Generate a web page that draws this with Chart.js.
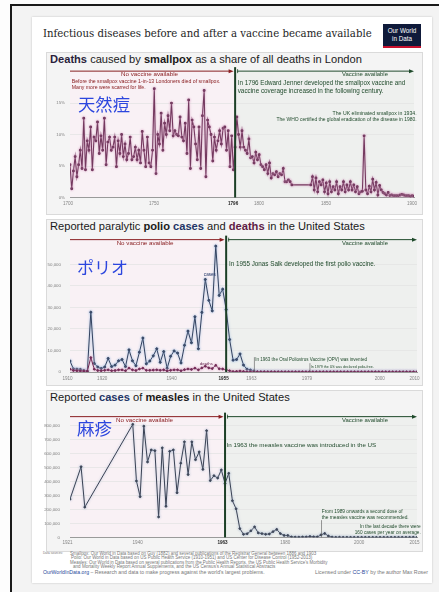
<!DOCTYPE html>
<html><head><meta charset="utf-8">
<script src="https://cdn.jsdelivr.net/npm/chart.js@4.4.1/dist/chart.umd.min.js"></script>
<style>
html,body{margin:0;padding:0}
body{width:439px;height:592px;position:relative;overflow:hidden;background:#fdfdfd;font-family:"Liberation Sans",Arial,sans-serif}
.abs{position:absolute}
#frameTop{left:10px;top:4px;width:429px;height:2px;background:#1a1a1a}
#frameLeft{left:10px;top:4px;width:2px;height:588px;background:#1a1a1a}
#page{left:12px;top:6px;width:427px;height:586px;background:#f3f3f3}
#card{left:32px;top:17px;width:400px;height:566px;background:#fff;box-shadow:0 0 2px rgba(0,0,0,.2)}
.panel{position:absolute;left:46px;width:377px;background:#f4f4f4;border:1px solid #dadada;box-sizing:border-box}
.t{position:absolute;white-space:nowrap;line-height:1}
canvas{position:absolute}
#logo{left:383px;top:24px;width:38px;background:#0f1a3a;border-bottom:2px solid #c8102e;color:#fff;text-align:center;font-size:6.3px;line-height:7.5px;padding-top:3px;box-sizing:content-box;height:19px}
.cjk{font-family:"Noto Sans CJK SC","Noto Sans CJK JP",sans-serif;color:#2c46de;z-index:5}
</style></head><body>
<div id="frameTop" class="abs"></div>
<div id="frameLeft" class="abs"></div>
<div id="page" class="abs"></div>
<div id="card" class="abs"></div>
<div id="logo" class="abs">Our World<br>in Data</div>
<div class="t" data-x="43" data-cy="35" data-w="329" style="font-family:'DejaVu Serif',serif;font-size:13px;color:#1e1e1e">Infectious diseases before and after a vaccine became available</div>

<div class="panel" style="top:52px;height:163px"></div>
<div class="panel" style="top:219px;height:167px"></div>
<div class="panel" style="top:390px;height:162px"></div>

<div class="t" data-x="50" data-cy="60" data-w="312" style="font-size:11px;color:#1a1a1a"><b style="color:#2b1f3c">Deaths</b> caused by <b>smallpox</b> as a share of all deaths in London</div>
<div class="t" data-x="50" data-cy="227" data-w="315" style="font-size:11px;color:#1a1a1a">Reported paralytic <b>polio</b> <b style="color:#1f3466">cases</b> and <b style="color:#5e1c46">deaths</b> in the United States</div>
<div class="t" data-x="50" data-cy="398" data-w="240" style="font-size:11px;color:#1a1a1a">Reported <b style="color:#1f3466">cases</b> of <b>measles</b> in the United States</div>

<canvas id="c1" width="383" height="148" style="left:40px;top:64px"></canvas>
<canvas id="c2" width="383" height="156" style="left:40px;top:228px"></canvas>
<canvas id="c3" width="383" height="146" style="left:40px;top:404px"></canvas>

<div class="t cjk" data-x="78" data-cy="105" data-w="52" style="font-size:17px">天然痘</div>
<div class="t cjk" data-x="77" data-cy="267" data-w="51" style="font-size:17px">ポリオ</div>
<div class="t cjk" data-x="77" data-cy="429" data-w="35" style="font-size:17px">麻疹</div>

<div class="t" data-x="43" data-cy="554" data-w="20" style="font-size:4.5px;color:#777">Data sources:</div>
<div class="t" data-x="70" data-cy="554" data-w="247" style="font-size:4.5px;color:#777">Smallpox: Our World in Data based on Guy (1882) and several publications of the Registrar General between 1886 and 1903</div>
<div class="t" data-x="71" data-cy="558.5" data-w="242" style="font-size:4.5px;color:#777">Polio: Our World in Data based on US Public Health Service (1910-1951) and US Center for Disease Control (1952-2013)</div>
<div class="t" data-x="70" data-cy="563" data-w="258" style="font-size:4.5px;color:#777">Measles: Our World in Data based on several publications from the Public Health Reports, the US Public Health Service's Morbidity</div>
<div class="t" data-x="73" data-cy="567.5" data-w="203" style="font-size:4.5px;color:#777">and Mortality Weekly Report Annual Supplements, and the US Census's Annual Statistical Abstracts</div>
<div class="t" data-x="43" data-cy="573" data-w="222" style="font-size:5px;color:#777"><span style="color:#2a4a9a">OurWorldInData.org</span> – Research and data to make progress against the world's largest problems.</div>
<div class="t" data-r="428" data-cy="573" data-w="113" style="font-size:5px;color:#777">Licensed under <span style="color:#2a4a9a">CC-BY</span> by the author Max Roser</div>

<script>
// ---------------- DATA ----------------
// Smallpox deaths as share of all deaths in London (%)
const smallpoxEarlyStart = 1700; // 1700–1829, yearly
const smallpoxEarly = [
 5.2,1.4,4.2,6.5,3.3,5.2,7.5,4.6,12.6,4.4,
 9.0,7.5,11.2,4.4,9.6,9.0,12.0,7.0,9.8,7.5,
 12.6,5.2,8.8,9.6,7.5,8.0,9.6,4.9,9.0,7.0,
 10.0,6.5,8.5,6.0,7.0,9.6,6.0,6.5,8.0,6.0,
 7.5,5.5,10.5,7.5,4.9,9.6,5.5,4.9,7.5,17.3,
 3.8,10.0,8.5,13.4,7.5,11.8,10.0,13.0,10.6,15.0,
 9.8,10.6,10.0,9.8,12.8,9.6,9.0,11.8,7.0,15.5,
 4.6,12.3,11.2,8.5,6.0,11.2,4.6,13.0,17.0,3.3,
 12.3,11.2,10.0,5.8,9.6,7.5,9.0,10.6,8.5,11.0,
 11.2,7.5,10.6,4.9,9.8,4.4,8.0,12.8,10.0,8.0,
 10.6,8.0,7.5,7.0,9.3,6.3,6.5,5.5,7.2,6.0,
 6.8,5.2,4.9,4.4,5.2,3.8,5.5,3.1,3.8,3.6,
 4.1,3.3,3.8,3.6,4.6,2.5,2.5,2.8,2.5,2.0];
const smallpoxLateStart = 1840; // 1840–1900, yearly
const smallpoxLate = [
 2.0,3.3,1.2,3.1,0.9,2.5,2.0,2.8,0.9,2.3,
 0.6,2.5,0.9,1.7,1.2,2.5,0.6,1.7,1.2,2.5,
 0.9,2.0,1.2,2.5,1.2,2.0,0.9,1.7,0.6,0.9,
 1.0,9.8,1.2,0.6,1.8,0.9,2.9,1.2,2.4,0.4,
 1.9,1.2,0.8,0.6,0.4,0.8,0.3,0.4,0.3,0.3,
 0.3,0.3,0.4,0.5,0.4,0.3,0.3,0.3,0.2,0.3,0.2];
const smallpoxYTicks = [0,5,10,15];
const smallpoxXTicks = [1700,1750,1796,1800,1850,1900];

// Polio, United States, 1910–2010
const polioStart = 1910;
const polioCases = [
 5100,1400,1300,1200,700,400,27800,4000,2300,1600,
 2300,6300,2500,3200,5200,5800,2500,10300,5200,2900,
 9200,15800,3800,5100,7500,10800,4500,9500,1700,7300,
 9800,8800,4200,12400,19000,13600,25700,10800,27700,43000,
 33300,28400,58500,35600,38500,29000,15100,5500,5800,8400,
 3200,1300,900,450,120,70,110,40,55,20,
 30,20,30,8,7,15,12,20,10,30,
 9,10,12,13,9,8,10,10,9,11,
 6,10,6,4,8,7,7,5,2,2,
 0,0,0,0,0,1,0,0,0,1,0];
const polioDeaths = [
 1300,700,600,500,400,400,6700,1300,700,600,
 800,1000,600,700,1000,1000,600,1800,1000,700,
 1400,1800,800,800,900,1000,800,1000,500,800,
 1000,1000,600,1100,1400,1200,1800,1000,1900,2700,
 1900,1600,3100,1500,1400,1000,570,220,260,450,
 230,90,60,40,20,16,9,16,24,13,
 7,18,2,10,3,9,16,16,13,1,
 2,0,1,1,0,2,1,0,1,0,
 0,0,1,0,0,0,0,0,0,0,
 0,0,0,0,0,0,0,0,0,0,0];
const polioYTicks = [0,10000,20000,30000,40000,50000];
const polioXTicks = [1910,1920,1940,1955,1963,1979,2000,2010];

// Measles cases, United States
const measlesYears = [1921,1924,1925,
 1938,1939,1940,1941,1942,1943,1944,1945,1946,1947,1948,1949,
 1950,1951,1952,1953,1954,1955,1956,1957,1958,1959,
 1960,1961,1962,1963,1964,1965,1966,1967,1968,1969,
 1970,1971,1972,1973,1974,1975,1976,1977,1978,1979,
 1980,1981,1982,1983,1984,1985,1986,1987,1988,1989,
 1990,1991,1992,1993,1994,1995,1996,1997,1998,1999,
 2000,2001,2002,2003,2004,2005,2006,2007,2008,2009,
 2010,2011,2012,2013,2014,2015];
const measlesCases = [273000,505000,216000,
 808000,403000,291000,795000,539000,625000,620000,146000,640000,222000,615000,625000,
 319000,530000,683000,449000,683000,555000,611000,486000,763000,406000,
 441000,424000,482000,385000,458000,262000,204000,63000,22000,26000,
 47000,75000,32000,27000,22000,24000,41000,57000,27000,14000,
 13500,3000,1700,1500,2600,2800,6300,3700,3400,18000,
 28000,9600,2200,312,963,309,508,138,100,100,
 86,116,44,56,37,66,55,43,140,71,
 63,220,55,187,667,188];
const measlesYTicks = [0,100000,200000,300000,400000,500000,600000,700000,800000];
const measlesXTicks = [1921,1940,1963,1980,2000,2015];

// ---------------- DRAWING ----------------
const RED = '#8a1f22', GREEN = '#1f4a2b';
const fmtNum = v => v.toLocaleString('en-US');

const glowPlugin = {
  id:'glow',
  beforeDatasetDraw(chart, args){
    const ds = chart.data.datasets[args.index];
    if (ds.glow){ chart.ctx.save(); chart.ctx.shadowColor = ds.glow; chart.ctx.shadowBlur = 2.5; }
  },
  afterDatasetDraw(chart, args){
    const ds = chart.data.datasets[args.index];
    if (ds.glow) chart.ctx.restore();
  }
};

function fitFont(ctx, text, w, weight){
  ctx.font = (weight||'normal') + ' 10px "Liberation Sans", Arial, sans-serif';
  const m = ctx.measureText(text).width;
  const fs = w ? 10 * w / m : 5;
  ctx.font = (weight||'normal') + ' ' + fs.toFixed(2) + 'px "Liberation Sans", Arial, sans-serif';
}

function makeOverlay(cfg){
  return {
    id:'overlay',
    beforeDraw(chart){
      const {ctx, chartArea:a, scales:{x}} = chart;
      const vx = x.getPixelForValue(cfg.vaccineYear);
      ctx.save();
      ctx.fillStyle = '#f9f1f5'; ctx.fillRect(a.left, a.top, vx - a.left, a.bottom - a.top);
      ctx.fillStyle = '#eef0ee'; ctx.fillRect(vx, a.top, a.right - vx, a.bottom - a.top);
      ctx.restore();
    },
    afterDatasetsDraw(chart){
      const {ctx, chartArea:a, scales:{x, y}} = chart;
      const vx = x.getPixelForValue(cfg.vaccineYear);
      const ay = a.top + cfg.arrowDy;
      ctx.save();
      (cfg.markers||[]).forEach(m => {
        ctx.strokeStyle = '#555'; ctx.lineWidth = 0.6;
        ctx.beginPath(); ctx.moveTo(x.getPixelForValue(m.x)+0.5, y.getPixelForValue(m.top));
        ctx.lineTo(x.getPixelForValue(m.x)+0.5, a.bottom); ctx.stroke();
      });
      ctx.strokeStyle = '#1c3f26'; ctx.lineWidth = 2;
      ctx.beginPath(); ctx.moveTo(vx, ay - 4); ctx.lineTo(vx, a.bottom); ctx.stroke();
      const arrow = (x1, x2, col) => {
        ctx.strokeStyle = col; ctx.fillStyle = col; ctx.lineWidth = 1;
        ctx.beginPath(); ctx.moveTo(x1, ay); ctx.lineTo(x2 - 4, ay); ctx.stroke();
        ctx.beginPath(); ctx.moveTo(x2, ay); ctx.lineTo(x2 - 5, ay - 2); ctx.lineTo(x2 - 5, ay + 2); ctx.closePath(); ctx.fill();
      };
      arrow(x.getPixelForValue(x.min), vx - 1.5, RED);
      arrow(vx + 2, a.right, GREEN);
      ctx.strokeStyle = GREEN; ctx.lineWidth = 0.8;
      ctx.beginPath(); ctx.moveTo(vx + 2.5, ay - 2); ctx.lineTo(vx + 2.5, ay + 2); ctx.stroke();
      ctx.textBaseline = 'middle';
      ctx.textAlign = 'center';
      ctx.fillStyle = RED; fitFont(ctx, 'No vaccine available', 57);
      ctx.fillText('No vaccine available', (x.getPixelForValue(x.min) + vx) / 2 - 3, ay + 3.6);
      ctx.fillStyle = GREEN; fitFont(ctx, 'Vaccine available', 46);
      ctx.fillText('Vaccine available', 325 - 40 + 6 + 34, ay + 3.6);
      cfg.notes.forEach(n => {
        ctx.fillStyle = n.color; ctx.textAlign = n.align || 'left';
        fitFont(ctx, n.text, n.w, n.bold ? 'bold' : 'normal');
        ctx.fillText(n.text, x.getPixelForValue(n.x), y.getPixelForValue(n.y));
      });
      ctx.textAlign = 'center';
      cfg.xTicks.forEach(v => {
        const bold = v === cfg.vaccineYear;
        ctx.font = (bold ? 'bold ' : '') + '4.6px "Liberation Sans", Arial, sans-serif';
        ctx.fillStyle = bold ? '#1e1e1e' : '#858585';
        const dx = (cfg.xLabelShift && cfg.xLabelShift[v]) || 0;
        ctx.fillText(String(v), x.getPixelForValue(v) + cfg.xLabelDx + dx, a.bottom + cfg.xLabelDy);
      });
      ctx.restore();
    }
  };
}

function makeChart(id, cfg){
  return new Chart(document.getElementById(id), {
    type:'line',
    data:{datasets: cfg.datasets},
    options:{
      responsive:false, animation:false, devicePixelRatio:1,
      layout:{padding:{top:cfg.padTop, right:cfg.padRight, left:0, bottom:0}},
      plugins:{legend:{display:false}, tooltip:{enabled:false}},
      elements:{line:{tension:0}, point:{radius:0.9, borderWidth:0, hoverRadius:0}},
      scales:{
        x:{type:'linear', min:cfg.xmin, max:cfg.xmax,
           afterFit(s){ s.height = cfg.xAxisH; },
           ticks:{display:false}, grid:{display:false, drawTicks:false},
           border:{display:true, color:'#9a9a9a', width:1}},
        y:{type:'linear', min:0, max:cfg.ymax,
           afterFit(s){ s.width = cfg.yAxisW; },
           afterBuildTicks(s){ s.ticks = cfg.yTicks.map(v => ({value:v})); },
           ticks:{font:{family:'Liberation Sans', size:4.4}, color:'#808080', padding:cfg.yPad, callback:cfg.yFmt, autoSkip:false},
           grid:{color:'#e3e3e3', lineWidth:0.7, drawTicks:false}, border:{display:false}}
      }
    },
    plugins:[glowPlugin, makeOverlay(cfg)]
  });
}

// Smallpox
const smallpoxPoints = smallpoxEarly.map((v,i)=>({x:smallpoxEarlyStart+i, y:v}))
  .concat(smallpoxLate.map((v,i)=>({x:smallpoxLateStart+i, y:v})));
makeChart('c1', {
  xmin:1700, xmax:1900, ymax:20, padTop:7.5, padRight:9, xAxisH:14.5, yAxisW:30, yPad:5,
  yTicks:smallpoxYTicks, yFmt:v=>v+'%', xTicks:smallpoxXTicks, xLabelDx:-2, xLabelDy:6.5,
  xLabelShift:{1800:19}, vaccineYear:1796, arrowDy:-0.5,
  datasets:[{data:smallpoxPoints, borderColor:'#74395f', borderWidth:1.1, pointBackgroundColor:'#2a0f22', glow:'rgba(214,160,195,1)'}],
  notes:[
    {x:1701, y:18.4, text:'Before the smallpox vaccine 1-in-13 Londoners died of smallpox.', w:149, color:RED},
    {x:1701, y:17.5, text:'Many more were scarred for life.', w:74, color:RED},
    {x:1797.5, y:18.2, text:'In 1796 Edward Jenner developed the smallpox vaccine and', w:168, color:GREEN},
    {x:1797.5, y:16.95, text:'vaccine coverage increased in the following century.', w:146, color:GREEN},
    {x:1901.5, y:13.4, text:'The UK eliminated smallpox in 1934.', w:84, color:GREEN, align:'right'},
    {x:1901.5, y:12.3, text:'The WHO certified the global eradication of the disease in 1980.', w:140, color:GREEN, align:'right'}
  ]
});

// Polio
makeChart('c2', {
  xmin:1910, xmax:2010, ymax:61500, padTop:10, padRight:6, xAxisH:12, yAxisW:30, yPad:9,
  yTicks:polioYTicks, yFmt:fmtNum, xTicks:polioXTicks, xLabelDx:-2.5, xLabelDy:7, vaccineYear:1955, arrowDy:0,
  datasets:[
    {data:polioDeaths.map((v,i)=>({x:polioStart+i, y:v})), borderColor:'#6e2350', borderWidth:1, pointBackgroundColor:'#4a1035', glow:'rgba(220,170,200,0.9)'},
    {data:polioCases.map((v,i)=>({x:polioStart+i, y:v})), borderColor:'#33425f', borderWidth:1, pointBackgroundColor:'#1a2540', pointRadius:1, glow:'rgba(150,180,220,1)'}
  ],
  markers:[{x:1963, top:6900}, {x:1979, top:4100}],
  notes:[
    {x:1950.3, y:45400, text:'cases', w:12, color:'#1f3466', align:'center'},
    {x:1949.3, y:3700, text:'deaths', w:13, color:'#5e1c46', align:'center'},
    {x:1955.8, y:50000, text:'In 1955 Jonas Salk developed the first polio vaccine.', w:147, color:GREEN},
    {x:1963.4, y:5500, text:'In 1963 the Oral Poliovirus Vaccine (OPV) was invented', w:112, color:GREEN},
    {x:1979.4, y:2300, text:'In 1979 the US was declared polio-free.', w:63, color:GREEN}
  ]
});

// Measles
makeChart('c3', {
  xmin:1921, xmax:2015, ymax:863000, padTop:8, padRight:6, xAxisH:12, yAxisW:30, yPad:10,
  yTicks:measlesYTicks, yFmt:fmtNum, xTicks:measlesXTicks, xLabelDx:-2.5, xLabelDy:5.5, vaccineYear:1963, arrowDy:0,
  datasets:[{data:measlesYears.map((yr,i)=>({x:yr, y:measlesCases[i]})), borderColor:'#3a4254', borderWidth:1, pointBackgroundColor:'#1e2433', glow:'rgba(170,185,210,0.9)'}],
  markers:[{x:1989, top:123000}],
  notes:[
    {x:1963.4, y:657500, text:'In 1963 the measles vaccine was introduced in the US', w:150, color:GREEN},
    {x:1989.2, y:185000, text:'From 1989 onwards a second dose of', w:81, color:GREEN},
    {x:1989.2, y:143800, text:'the measles vaccine was recommended.', w:87, color:GREEN},
    {x:2016, y:75300, text:'In the last decade there were', w:61, color:GREEN, align:'right'},
    {x:2016, y:34200, text:'160 cases per year on average.', w:66, color:GREEN, align:'right'}
  ]
});

// ---------------- HTML text fitting ----------------
document.querySelectorAll('.t').forEach(el => {
  const w = parseFloat(el.dataset.w);
  const fs0 = parseFloat(getComputedStyle(el).fontSize);
  const r = el.getBoundingClientRect().width;
  const fs = fs0 * w / r;
  el.style.fontSize = fs + 'px';
  const cy = parseFloat(el.dataset.cy);
  el.style.top = (cy - fs * 0.55) + 'px';
  if (el.dataset.r) el.style.left = (parseFloat(el.dataset.r) - w) + 'px';
  else el.style.left = el.dataset.x + 'px';
});
</script>
</body></html>
